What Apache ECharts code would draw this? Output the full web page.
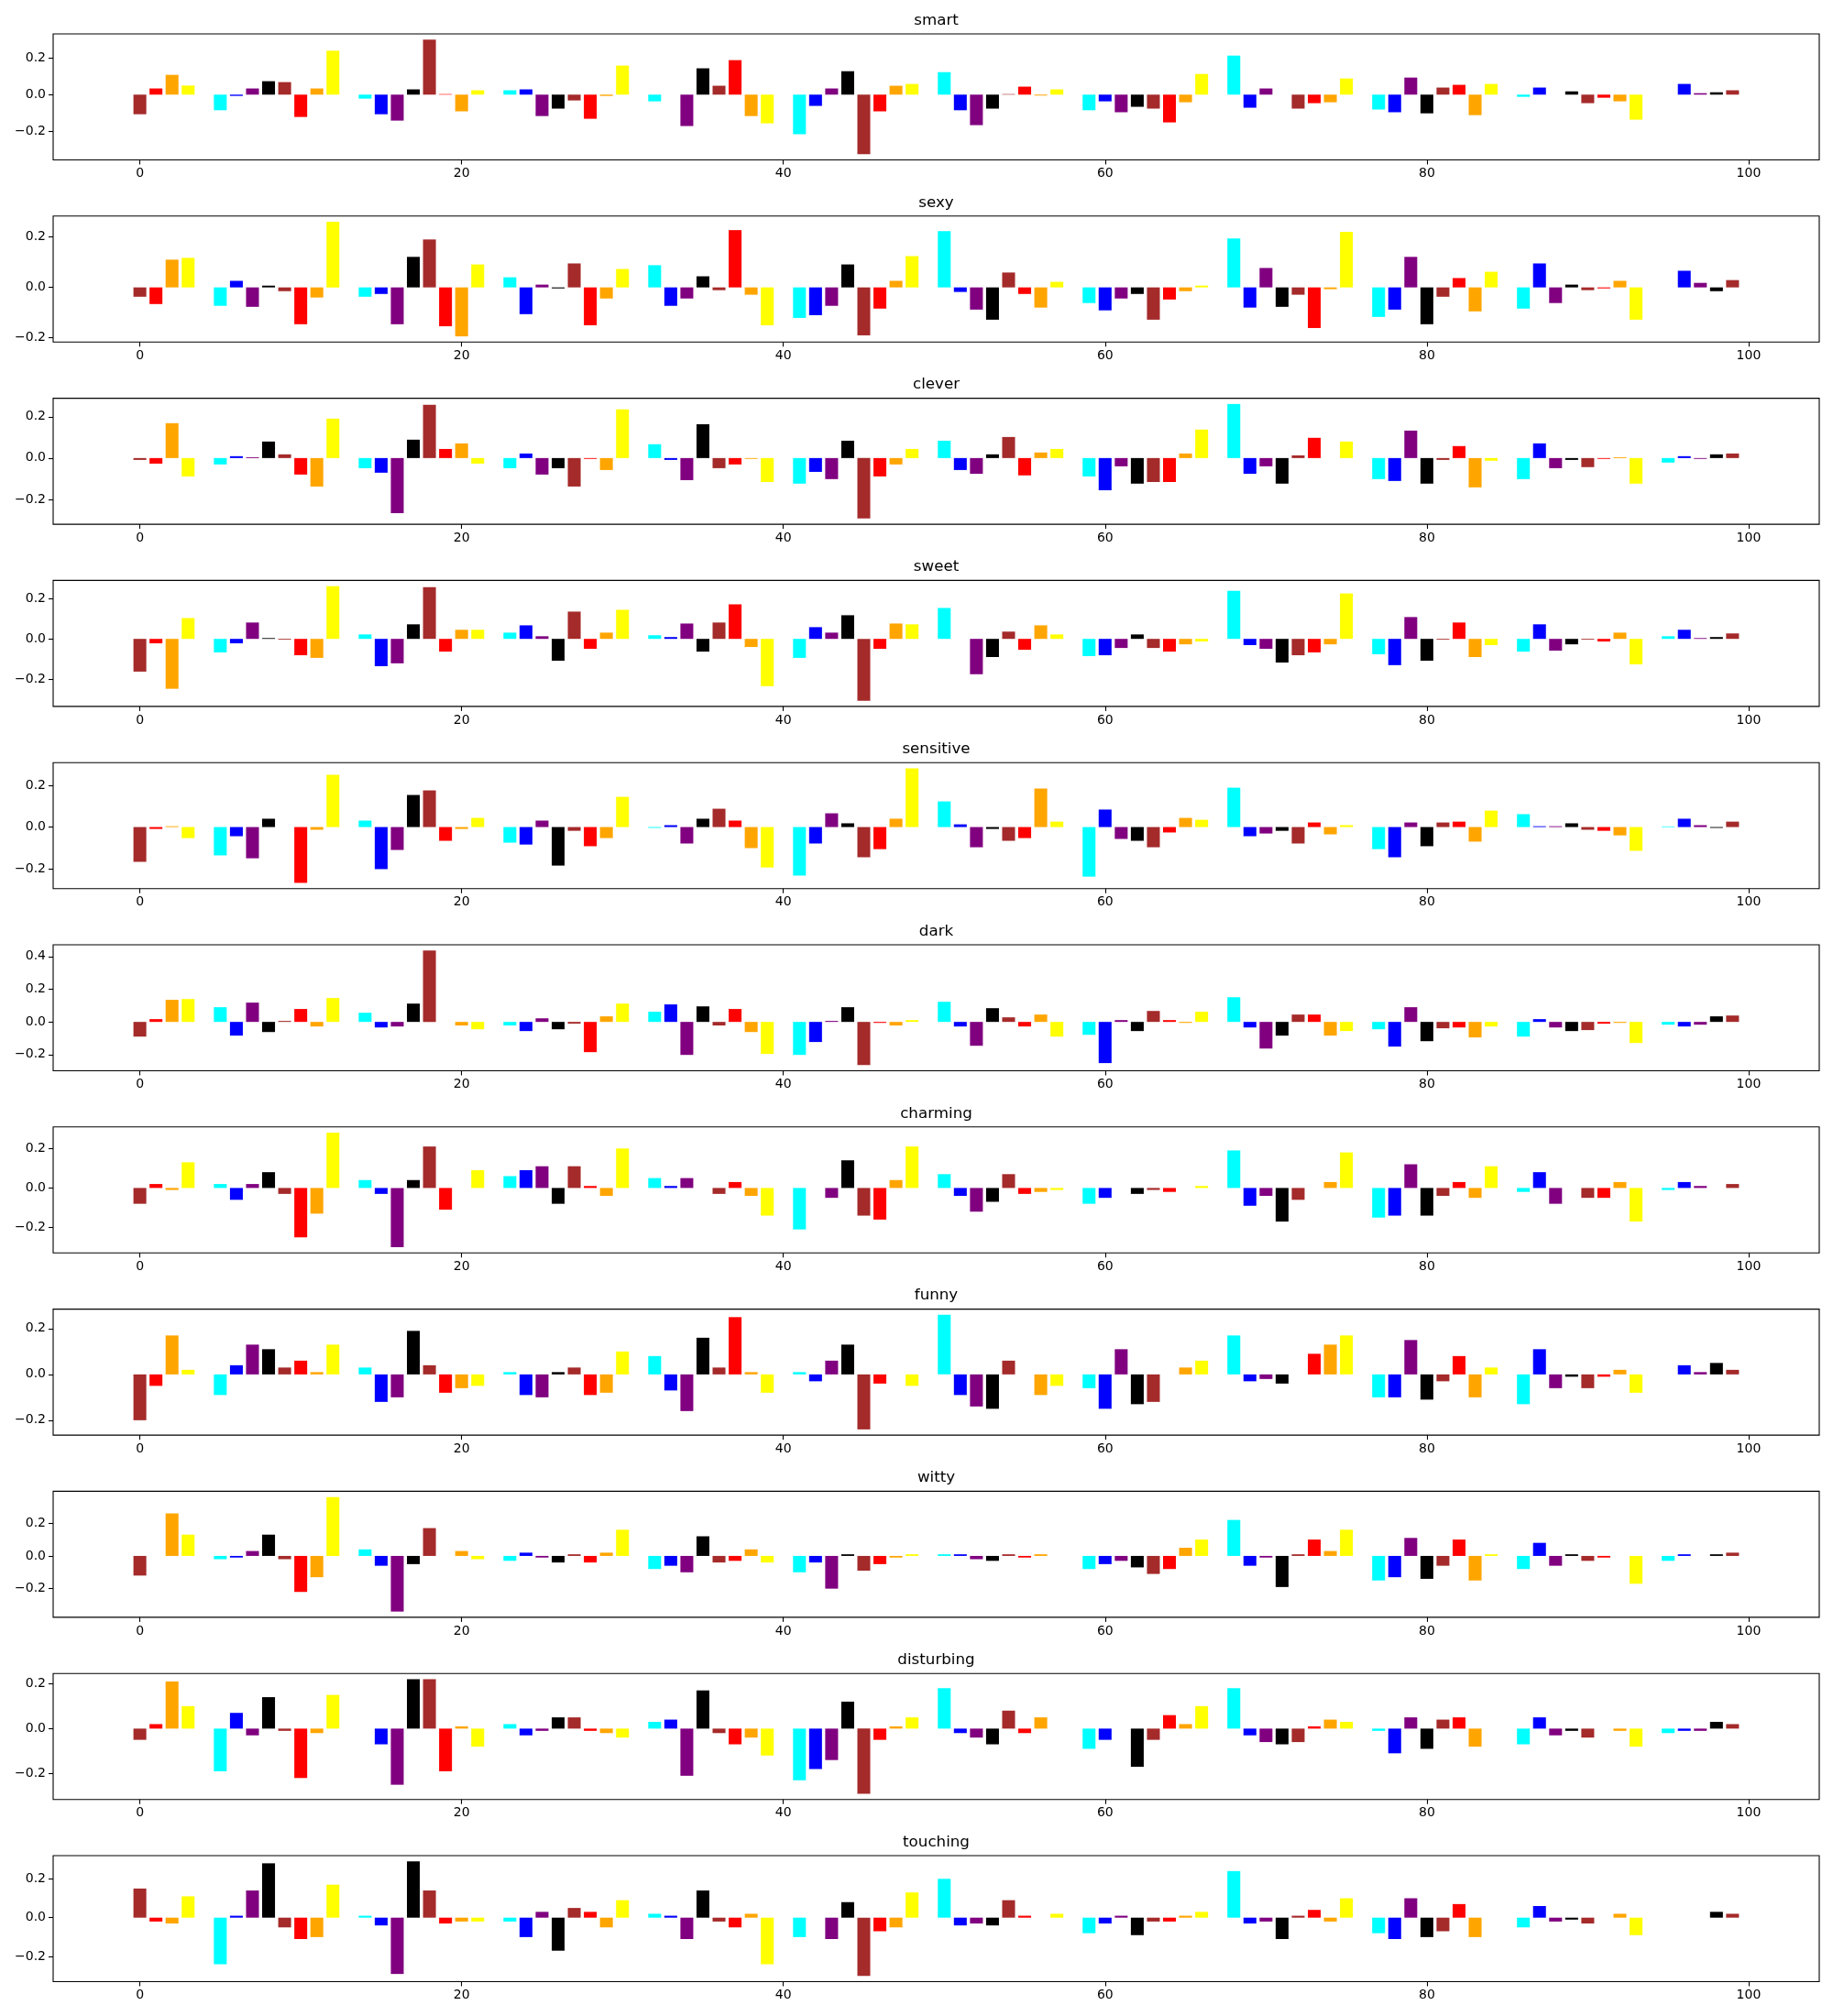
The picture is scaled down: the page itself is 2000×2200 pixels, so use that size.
<!DOCTYPE html>
<html><head><meta charset="utf-8">
<script src="https://cdn.jsdelivr.net/npm/echarts@6/dist/echarts.min.js"></script>
<style>html,body{margin:0;padding:0;background:#fff}#c{width:2000px;height:2200px}</style>
</head><body><div id="c"></div>
<script>
// Subplot titles
const titles = ['smart','sexy','clever','sweet','sensitive','dark','charming','funny','witty','disturbing','touching'];
// Bar colours by position modulo 9 (index 4 of every group is an empty slot)
const barColors = ['#a52a2a','#ff0000','#ffa500','#ffff00',null,'#00ffff','#0000ff','#800080','#000000'];
const xTicks = [0,20,40,60,80,100];
const yTickCandidates = [-0.4,-0.2,0.0,0.2,0.4];

const smart = [-0.108,0.034,0.109,0.050,null,-0.086,-0.007,0.034,0.074,
 0.069,-0.123,0.034,0.242,null,-0.022,-0.108,-0.143,0.029,
 0.303,0.003,-0.092,0.024,null,0.024,0.029,-0.118,-0.077,
 -0.032,-0.133,-0.007,0.160,null,-0.037,0,-0.173,0.145,
 0.049,0.190,-0.118,-0.158,null,-0.218,-0.062,0.034,0.129,
 -0.328,-0.092,0.049,0.059,null,0.124,-0.086,-0.168,-0.077,
 0.003,0.044,-0.005,0.029,null,-0.086,-0.037,-0.097,-0.067,
 -0.077,-0.153,-0.042,0.114,null,0.215,-0.072,0.034,0,
 -0.077,-0.047,-0.042,0.089,null,-0.082,-0.097,0.094,-0.103,
 0.039,0.054,-0.113,0.059,null,-0.012,0.039,0,0.018,
 -0.047,-0.017,-0.037,-0.138,null,0,0.059,0.008,0.013,
 0.024];
const sexy = [-0.037,-0.066,0.110,0.117,null,-0.073,0.026,-0.077,0.007,
 -0.015,-0.146,-0.040,0.260,null,-0.037,-0.026,-0.146,0.121,
 0.190,-0.154,-0.194,0.091,null,0.040,-0.106,0.011,-0.004,
 0.095,-0.150,-0.044,0.073,null,0.088,-0.073,-0.044,0.044,
 -0.011,0.227,-0.029,-0.150,null,-0.121,-0.110,-0.073,0.091,
 -0.190,-0.084,0.026,0.124,null,0.223,-0.018,-0.088,-0.128,
 0.059,-0.026,-0.080,0.022,null,-0.062,-0.091,-0.044,-0.026,
 -0.128,-0.048,-0.015,0.007,null,0.194,-0.080,0.077,-0.077,
 -0.029,-0.161,-0.007,0.220,null,-0.117,-0.088,0.121,-0.146,
 -0.037,0.037,-0.095,0.062,null,-0.084,0.095,-0.062,0.011,
 -0.011,-0.004,0.026,-0.128,null,0,0.066,0.018,-0.015,
 0.029];
const clever = [-0.009,-0.027,0.169,-0.089,null,-0.031,0.009,0.004,0.080,
 0.018,-0.080,-0.138,0.191,null,-0.049,-0.071,-0.267,0.089,
 0.258,0.044,0.071,-0.027,null,-0.049,0.022,-0.080,-0.049,
 -0.138,-0.004,-0.058,0.236,null,0.067,-0.009,-0.107,0.164,
 -0.049,-0.031,-0.004,-0.116,null,-0.124,-0.067,-0.102,0.084,
 -0.293,-0.089,-0.031,0.044,null,0.084,-0.058,-0.076,0.018,
 0.102,-0.084,0.027,0.044,null,-0.089,-0.156,-0.040,-0.124,
 -0.116,-0.116,0.022,0.138,null,0.262,-0.076,-0.040,-0.124,
 0.013,0.098,0,0.080,null,-0.102,-0.111,0.133,-0.124,
 -0.009,0.058,-0.142,-0.013,null,-0.102,0.071,-0.049,-0.009,
 -0.044,-0.004,0.004,-0.124,null,-0.022,0.009,-0.004,0.018,
 0.022];
const sweet = [-0.162,-0.022,-0.247,0.103,null,-0.067,-0.022,0.081,0.004,
 -0.004,-0.081,-0.094,0.261,null,0.022,-0.135,-0.121,0.072,
 0.256,-0.063,0.045,0.045,null,0.031,0.067,0.013,-0.108,
 0.135,-0.049,0.031,0.144,null,0.018,0.009,0.076,-0.063,
 0.081,0.171,-0.040,-0.234,null,-0.094,0.058,0.031,0.117,
 -0.306,-0.049,0.076,0.072,null,0.153,0,-0.175,-0.090,
 0.036,-0.054,0.067,0.022,null,-0.085,-0.081,-0.045,0.022,
 -0.045,-0.063,-0.027,-0.013,null,0.238,-0.031,-0.049,-0.117,
 -0.081,-0.067,-0.027,0.225,null,-0.076,-0.130,0.108,-0.108,
 -0.004,0.081,-0.090,-0.031,null,-0.063,0.072,-0.058,-0.027,
 -0.004,-0.013,0.031,-0.126,null,0.013,0.045,0.004,0.009,
 0.027];
const sensitive = [-0.167,-0.009,0.004,-0.053,null,-0.136,-0.044,-0.150,0.040,
 0,-0.268,-0.013,0.251,null,0.031,-0.202,-0.110,0.154,
 0.176,-0.066,-0.009,0.044,null,-0.075,-0.084,0.031,-0.185,
 -0.018,-0.092,-0.053,0.145,null,-0.004,0.009,-0.079,0.040,
 0.088,0.031,-0.101,-0.194,null,-0.233,-0.079,0.066,0.018,
 -0.145,-0.106,0.040,0.282,null,0.123,0.013,-0.097,-0.009,
 -0.066,-0.053,0.185,0.026,null,-0.238,0.084,-0.057,-0.066,
 -0.097,-0.026,0.044,0.035,null,0.189,-0.044,-0.031,-0.018,
 -0.079,0.022,-0.035,0.009,null,-0.106,-0.145,0.022,-0.092,
 0.022,0.026,-0.070,0.079,null,0.062,0.004,0.004,0.018,
 -0.013,-0.018,-0.040,-0.114,null,0.003,0.040,0.009,-0.004,
 0.026];
const dark = [-0.090,0.017,0.135,0.140,null,0.090,-0.084,0.118,-0.062,
 0.006,0.079,-0.028,0.146,null,0.056,-0.034,-0.028,0.112,
 0.437,0,-0.022,-0.045,null,-0.022,-0.056,0.022,-0.045,
 -0.011,-0.185,0.034,0.112,null,0.062,0.107,-0.202,0.095,
 -0.022,0.079,-0.062,-0.196,null,-0.202,-0.123,0.006,0.090,
 -0.264,-0.006,-0.022,0.011,null,0.123,-0.028,-0.146,0.084,
 0.028,-0.028,0.045,-0.090,null,-0.079,-0.252,0.011,-0.056,
 0.067,0.011,-0.006,0.062,null,0.151,-0.034,-0.163,-0.084,
 0.045,0.045,-0.084,-0.056,null,-0.045,-0.151,0.090,-0.118,
 -0.039,-0.034,-0.095,-0.028,null,-0.090,0.017,-0.034,-0.056,
 -0.050,-0.011,-0.006,-0.129,null,-0.017,-0.028,-0.017,0.034,
 0.039];
const charming = [-0.08,0.02,-0.01,0.13,null,0.02,-0.06,0.02,0.08,
 -0.03,-0.25,-0.13,0.28,null,0.04,-0.03,-0.30,0.04,
 0.21,-0.11,0.0,0.09,null,0.06,0.09,0.11,-0.08,
 0.11,0.01,-0.04,0.20,null,0.05,0.01,0.05,0,
 -0.03,0.03,-0.04,-0.14,null,-0.21,0.0,-0.05,0.14,
 -0.14,-0.16,0.04,0.21,null,0.07,-0.04,-0.12,-0.07,
 0.07,-0.03,-0.02,-0.01,null,-0.08,-0.05,0.0,-0.03,
 -0.01,-0.02,0.0,0.01,null,0.19,-0.09,-0.04,-0.17,
 -0.06,0,0.03,0.18,null,-0.15,-0.14,0.12,-0.14,
 -0.04,0.03,-0.05,0.11,null,-0.02,0.08,-0.08,0.0,
 -0.05,-0.05,0.03,-0.17,null,-0.01,0.03,0.01,0.0,
 0.02];
const funny = [-0.20,-0.05,0.17,0.02,null,-0.09,0.04,0.13,0.11,
 0.03,0.06,0.01,0.13,null,0.03,-0.12,-0.10,0.19,
 0.04,-0.08,-0.06,-0.05,null,0.01,-0.09,-0.10,0.01,
 0.03,-0.09,-0.08,0.10,null,0.08,-0.07,-0.16,0.16,
 0.03,0.25,0.01,-0.08,null,0.01,-0.03,0.06,0.13,
 -0.24,-0.04,0.0,-0.05,null,0.26,-0.09,-0.14,-0.15,
 0.06,0.0,-0.09,-0.05,null,-0.06,-0.15,0.11,-0.13,
 -0.12,0.0,0.03,0.06,null,0.17,-0.03,-0.02,-0.04,
 0.0,0.09,0.13,0.17,null,-0.10,-0.10,0.15,-0.11,
 -0.03,0.08,-0.10,0.03,null,-0.13,0.11,-0.06,-0.01,
 -0.06,-0.01,0.02,-0.08,null,0.0,0.04,0.01,0.05,
 0.02];
const witty = [-0.12,0.0,0.26,0.13,null,-0.02,-0.01,0.03,0.13,
 -0.02,-0.22,-0.13,0.36,null,0.04,-0.06,-0.34,-0.05,
 0.17,0,0.03,-0.02,null,-0.03,0.02,-0.01,-0.04,
 0.01,-0.04,0.02,0.16,null,-0.08,-0.06,-0.10,0.12,
 -0.04,-0.03,0.04,-0.04,null,-0.10,-0.04,-0.20,0.01,
 -0.09,-0.05,-0.01,0.01,null,0.01,0.01,-0.02,-0.03,
 0.01,-0.01,0.01,0.0,null,-0.08,-0.05,-0.03,-0.07,
 -0.11,-0.08,0.05,0.10,null,0.22,-0.06,-0.01,-0.19,
 0.01,0.10,0.03,0.16,null,-0.15,-0.13,0.11,-0.14,
 -0.06,0.10,-0.15,0.01,null,-0.08,0.08,-0.06,0.01,
 -0.03,-0.01,0.0,-0.17,null,-0.03,0.01,0.0,0.01,
 0.02];
const disturbing = [-0.05,0.02,0.21,0.10,null,-0.19,0.07,-0.03,0.14,
 -0.01,-0.22,-0.02,0.15,null,0,-0.07,-0.25,0.22,
 0.22,-0.19,0.01,-0.08,null,0.02,-0.03,-0.01,0.05,
 0.05,-0.01,-0.02,-0.04,null,0.03,0.04,-0.21,0.17,
 -0.02,-0.07,-0.04,-0.12,null,-0.23,-0.18,-0.14,0.12,
 -0.29,-0.05,0.01,0.05,null,0.18,-0.02,-0.04,-0.07,
 0.08,-0.02,0.05,0,null,-0.09,-0.05,0,-0.17,
 -0.05,0.06,0.02,0.10,null,0.18,-0.03,-0.06,-0.07,
 -0.06,0.01,0.04,0.03,null,-0.01,-0.11,0.05,-0.09,
 0.04,0.05,-0.08,0,null,-0.07,0.05,-0.03,-0.01,
 -0.04,0,-0.01,-0.08,null,-0.02,-0.01,-0.01,0.03,
 0.02];
const touching = [0.15,-0.02,-0.03,0.11,null,-0.24,0.01,0.14,0.28,
 -0.05,-0.11,-0.10,0.17,null,0.01,-0.04,-0.29,0.29,
 0.14,-0.03,-0.02,-0.02,null,-0.02,-0.10,0.03,-0.17,
 0.05,0.03,-0.05,0.09,null,0.02,0.01,-0.11,0.14,
 -0.02,-0.05,0.02,-0.24,null,-0.10,0.0,-0.11,0.08,
 -0.30,-0.07,-0.05,0.13,null,0.20,-0.04,-0.03,-0.04,
 0.09,0.01,0,0.02,null,-0.08,-0.03,0.01,-0.09,
 -0.02,-0.02,0.01,0.03,null,0.24,-0.03,-0.02,-0.11,
 0.01,0.04,-0.02,0.10,null,-0.08,-0.11,0.10,-0.10,
 -0.07,0.07,-0.10,0,null,-0.05,0.06,-0.02,-0.01,
 -0.03,0,0.02,-0.09,null,0,0.0,0,0.03,
 0.02];

const allSeries = [smart,sexy,clever,sweet,sensitive,dark,charming,funny,witty,disturbing,touching];

const FONT = 'DejaVu Sans';
const W = 2000, LEFT = 58, RIGHT = 15, TOP0 = 37, STEP = 198.8, H = 137.5;
const BAR_W_UNITS = 0.8;
const xLo = -BAR_W_UNITS/2, xHi = 99 + BAR_W_UNITS/2;
const xPad = (xHi - xLo) * 0.05;
const xMin = xLo - xPad, xMax = xHi + xPad;
const plotW = W - LEFT - RIGHT;
const barWidthPx = BAR_W_UNITS * plotW / (xMax - xMin);

const fmt = v => (v < -1e-9 ? '\u2212' : '') + Math.abs(v).toFixed(1);

const grids = [], xAxes = [], yAxes = [], series = [], graphics = [];
allSeries.forEach((vals, k) => {
  const top = TOP0 + k * STEP;
  grids.push({left: LEFT, right: RIGHT, top: top, height: H, show: true,
    borderColor: '#000', borderWidth: 1.1, backgroundColor: '#fff'});
  const present = vals.filter(v => v !== null);
  const dmin = Math.min(0, ...present), dmax = Math.max(0, ...present);
  const pad = (dmax - dmin) * 0.05;
  const yMin = dmin - pad, yMax = dmax + pad;
  const yTicks = yTickCandidates.filter(t => t >= yMin && t <= yMax);
  xAxes.push({type: 'value', gridIndex: k, min: xMin, max: xMax,
    axisLine: {show: false, onZero: false},
    axisTick: {show: true, length: 5, inside: false, customValues: xTicks, lineStyle: {color: '#000', width: 1.1}},
    axisLabel: {show: true, customValues: xTicks, color: '#000', fontSize: 14, fontFamily: FONT, margin: 8},
    splitLine: {show: false}});
  yAxes.push({type: 'value', gridIndex: k, min: yMin, max: yMax,
    axisLine: {show: false, onZero: false},
    axisTick: {show: true, length: 5, inside: false, customValues: yTicks, lineStyle: {color: '#000', width: 1.1}},
    axisLabel: {show: true, customValues: yTicks, color: '#000', fontSize: 14, fontFamily: FONT, margin: 8, formatter: fmt},
    splitLine: {show: false}});
  const data = [];
  vals.forEach((v, i) => { if (v !== null) data.push([i, v]); });
  series.push({type: 'bar', xAxisIndex: k, yAxisIndex: k, data: data,
    barWidth: barWidthPx, barGap: '-100%',
    itemStyle: {color: p => barColors[p.data[0] % 9]},
    emphasis: {disabled: true}, silent: true});
  graphics.push({type: 'text', x: LEFT + plotW / 2, y: top - 14.5,
    style: {text: titles[k], font: '16.7px "DejaVu Sans"', fill: '#000',
      textAlign: 'center', textVerticalAlign: 'middle'}});
});

const chart = echarts.init(document.getElementById('c'), null, {renderer: 'canvas', width: 2000, height: 2200});
chart.setOption({
  backgroundColor: '#fff',
  animation: false,
  grid: grids, xAxis: xAxes, yAxis: yAxes, series: series,
  graphic: graphics
});
</script>
</body></html>
